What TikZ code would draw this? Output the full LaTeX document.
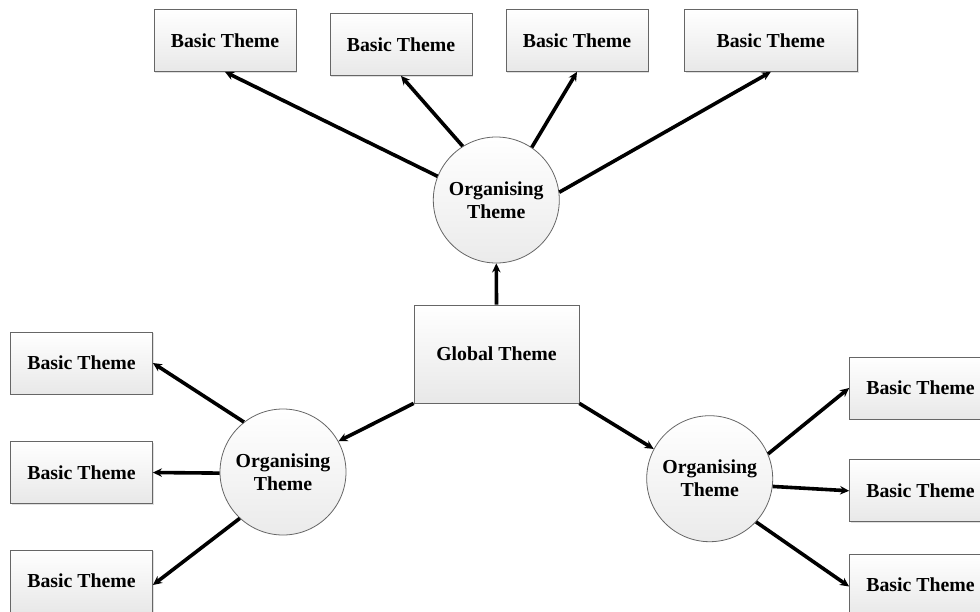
\documentclass[tikz,border=0pt]{standalone}
\usepackage{fontspec}
\setmainfont{Liberation Serif}
\usetikzlibrary{arrows.meta,shadows}
\begin{document}
\begin{tikzpicture}[x=1pt,y=-1pt,
  every node/.style={font=\bfseries\fontsize{19.8}{23}\selectfont},
  themebox/.style={rectangle, draw=black!60, line width=0.8pt,
    top color=white, bottom color=black!9, minimum width=142pt,
    minimum height=62pt, inner sep=0pt,
    drop shadow={shadow xshift=1.2pt, shadow yshift=-1.2pt, opacity=0.25, fill=black!50}},
  globalbox/.style={themebox, minimum width=165pt, minimum height=98pt},
  themecircle/.style={circle, draw=black!60, line width=0.8pt,
    top color=white, bottom color=black!8, minimum size=126pt,
    inner sep=0pt, align=center},
  link/.style={line width=3.6pt, -{Stealth[length=9pt,width=8.5pt]}}
]
\useasboundingbox (0,0) rectangle (980,611);

% centre
\node[globalbox] (g) at (496.5,354) {Global Theme};

% organising themes
\node[themecircle] (ot) at (496.3,200) {Organising\\Theme};
\node[themecircle] (ol) at (283,472) {Organising\\Theme};
\node[themecircle] (or) at (709.7,478.7) {Organising\\Theme};

% basic themes, top row
\node[themebox] (t1) at (225,40.5) {Basic Theme};
\node[themebox] (t2) at (401,44.5) {Basic Theme};
\node[themebox] (t3) at (577,40.5) {Basic Theme};
\node[themebox, minimum width=173pt] (t4) at (770.8,40.5) {Basic Theme};

% basic themes, left column
\node[themebox] (l1) at (81.5,363) {Basic Theme};
\node[themebox] (l2) at (81.5,472.5) {Basic Theme};
\node[themebox] (l3) at (81.5,581) {Basic Theme};

% basic themes, right column
\node[themebox] (r1) at (920.5,388) {Basic Theme};
\node[themebox] (r2) at (920.5,490.8) {Basic Theme};
\node[themebox] (r3) at (920.5,585) {Basic Theme};

% connectors
\draw[link] (g.north) -- (ot.south);
\draw[link] (g.south west) -- (ol.29);
\draw[link] (g.south east) -- (or.152);

\draw[link] (ot.158.6) -- (t1.south);
\draw[link] (ot.122) -- (t2.south);
\draw[link] (ot.56.2) -- (t3.south);
\draw[link] (ot.7.6) -- (t4.south);

\draw[link] (ol.128) -- (l1.east);
\draw[link] (ol.181.8) -- (l2.east);
\draw[link] (ol.227) -- ([yshift=-4pt]l3.east);

\draw[link] (or.23.4) -- (r1.west);
\draw[link] (or.-7.8) -- (r2.west);
\draw[link] (or.-43.9) -- ([yshift=-1.5pt]r3.west);
\end{tikzpicture}
\end{document}
